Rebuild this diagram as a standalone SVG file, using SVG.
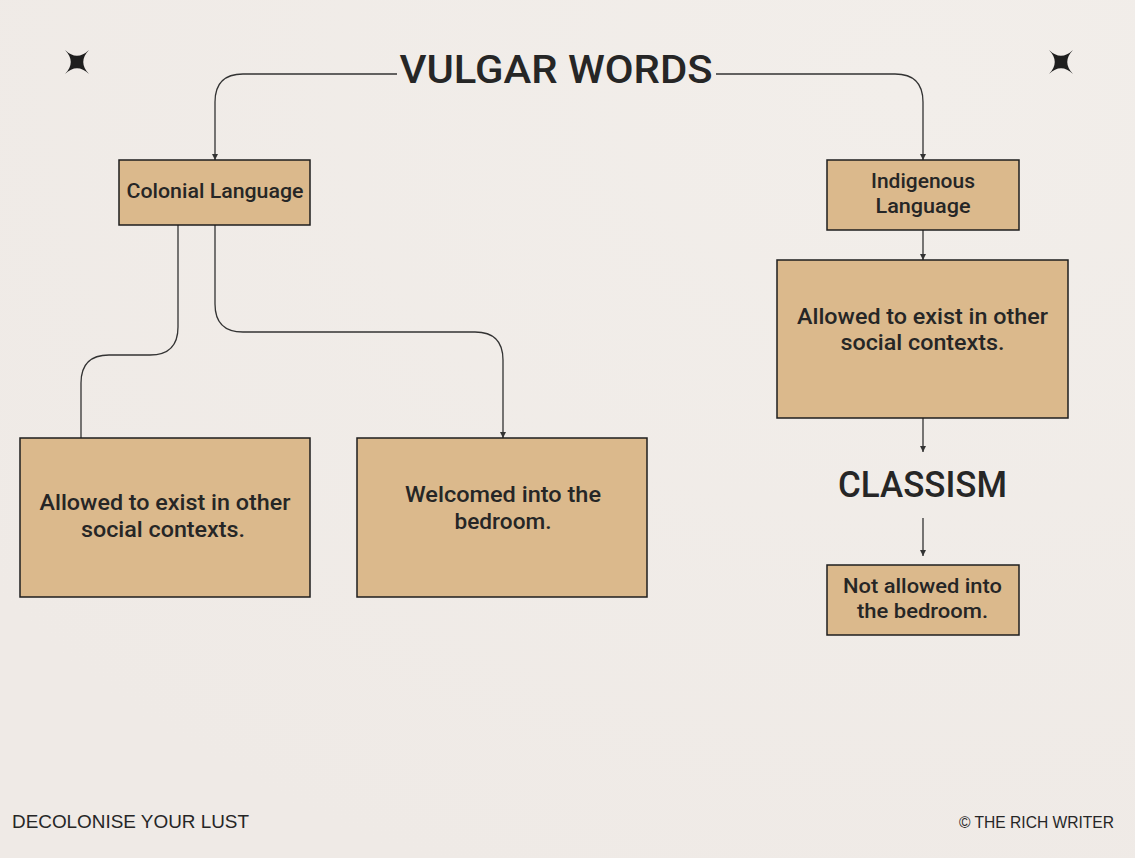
<svg xmlns="http://www.w3.org/2000/svg" width="1135" height="858" viewBox="0 0 1135 858">
<defs>
<marker id="arr" viewBox="0 0 6 6" refX="6" refY="3" markerWidth="6" markerHeight="6" markerUnits="userSpaceOnUse" orient="auto">
<path d="M0,0 L6,3 L0,6 Z" fill="#333"/>
</marker>
<radialGradient id="bg" cx="0.8" cy="0.1" r="1">
<stop offset="0" stop-color="#f2eeea"/>
<stop offset="1" stop-color="#efeae6"/>
</radialGradient>
</defs>
<style>
.box{fill:#dbb98c;stroke:#1e1e1e;stroke-width:1.5}
.t{font-family:"Roboto","Liberation Sans",sans-serif;font-weight:500;fill:#262626;text-anchor:middle}
.c{fill:none;stroke:#333;stroke-width:1.3}
.f{font-family:"Liberation Sans",sans-serif;fill:#262626}
.star{fill:#1e1e1e}
</style>
<rect width="1135" height="858" fill="url(#bg)"/>
<path class="star" d="M65,50 Q77,61.5 89,50 Q77.5,62 89,74 Q77,62.5 65,74 Q76.5,62 65,50 Z"/>
<path class="star" d="M1049,50 Q1061,61.5 1073,50 Q1061.5,62 1073,74 Q1061,62.5 1049,74 Q1060.5,62 1049,50 Z"/>
<g id="title"><text class="t" x="556" y="83" font-size="39" textLength="313" lengthAdjust="spacingAndGlyphs">VULGAR WORDS</text></g>
<g id="connectors">
<path class="c" d="M397,74 H243 Q215,74 215,102 V160" marker-end="url(#arr)"/>
<path class="c" d="M716,74 H895 Q923,74 923,102 V160" marker-end="url(#arr)"/>
<path class="c" d="M178,225 V327 Q178,355 150,355 H109 Q81,355 81,383 V438"/>
<path class="c" d="M215,225 V304 Q215,332 243,332 H475 Q503,332 503,360 V438" marker-end="url(#arr)"/>
<path class="c" d="M923,230 V260" marker-end="url(#arr)"/>
<path class="c" d="M923,418 V452" marker-end="url(#arr)"/>
<path class="c" d="M923,518 V556" marker-end="url(#arr)"/>
</g>
<g id="colonial">
<rect class="box" x="119" y="160" width="191" height="65"/>
<text class="t" x="215" y="198" font-size="21" textLength="177" lengthAdjust="spacingAndGlyphs">Colonial Language</text>
</g>
<g id="indigenous">
<rect class="box" x="827" y="160" width="192" height="70"/>
<text class="t" x="923" y="188" font-size="21" textLength="104" lengthAdjust="spacingAndGlyphs">Indigenous</text>
<text class="t" x="923" y="213" font-size="21" textLength="95" lengthAdjust="spacingAndGlyphs">Language</text>
</g>
<g id="right-allowed">
<rect class="box" x="777" y="260" width="291" height="158"/>
<text class="t" x="922.5" y="324" font-size="22" textLength="251" lengthAdjust="spacingAndGlyphs">Allowed to exist in other</text>
<text class="t" x="922.5" y="350" font-size="22" textLength="164" lengthAdjust="spacingAndGlyphs">social contexts.</text>
</g>
<g id="classism"><text class="t" x="922.5" y="497" font-size="37" textLength="169" lengthAdjust="spacingAndGlyphs">CLASSISM</text></g>
<g id="not-allowed">
<rect class="box" x="827" y="565" width="192" height="70"/>
<text class="t" x="922.5" y="593" font-size="21" textLength="159" lengthAdjust="spacingAndGlyphs">Not allowed into</text>
<text class="t" x="922.5" y="618" font-size="21" textLength="131" lengthAdjust="spacingAndGlyphs">the bedroom.</text>
</g>
<g id="left-allowed">
<rect class="box" x="20" y="438" width="290" height="159"/>
<text class="t" x="165" y="510" font-size="22" textLength="251" lengthAdjust="spacingAndGlyphs">Allowed to exist in other</text>
<text class="t" x="163" y="537" font-size="22" textLength="164" lengthAdjust="spacingAndGlyphs">social contexts.</text>
</g>
<g id="welcomed">
<rect class="box" x="357" y="438" width="290" height="159"/>
<text class="t" x="503" y="502" font-size="22" textLength="196" lengthAdjust="spacingAndGlyphs">Welcomed into the</text>
<text class="t" x="503" y="529" font-size="22" textLength="97" lengthAdjust="spacingAndGlyphs">bedroom.</text>
</g>
<g id="footer">
<text class="f" x="12" y="828" font-size="19" textLength="237" lengthAdjust="spacingAndGlyphs">DECOLONISE YOUR LUST</text>
<text class="f" x="959" y="828" font-size="16" textLength="155" lengthAdjust="spacingAndGlyphs">© THE RICH WRITER</text>
</g>
</svg>
